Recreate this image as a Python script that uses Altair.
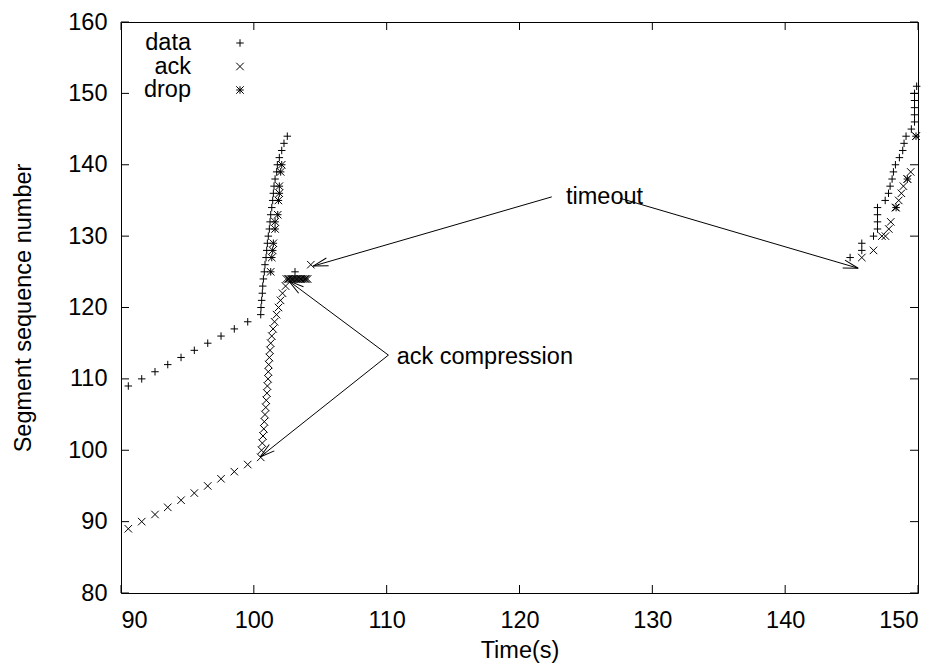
import math
import altair as alt
import pandas as pd

# ---- segment trace (time in s, segment sequence number) ----
data_t = [90.55, 91.56, 92.56, 93.52, 94.52, 95.52, 96.53, 97.53, 98.53, 99.54,
          100.52, 100.54, 100.59, 100.64, 100.67, 100.72, 100.79, 100.84, 100.92, 100.97,
          101.02, 101.09, 101.17, 101.22, 101.27, 101.35, 101.42, 101.47, 101.52, 101.60,
          101.72, 101.77, 101.92, 102.10, 102.27, 102.52,
          103.10,
          144.89, 145.77, 145.77, 146.65, 146.95, 146.95, 146.95, 146.95, 147.53, 147.78,
          147.90, 148.05, 148.15, 148.30, 148.60, 148.85, 148.95, 149.10, 149.50,
          149.74, 149.74, 149.74, 149.74, 149.74, 149.90]
data_seq = [109, 110, 111, 112, 113, 114, 115, 116, 117, 118,
            119, 120, 121, 122, 123, 124, 125, 126, 127, 128,
            129, 130, 131, 132, 133, 134, 135, 136, 137, 138,
            139, 140, 141, 142, 143, 144,
            125,
            127, 128, 129, 130, 131, 132, 133, 134, 135, 136,
            137, 138, 139, 140, 141, 142, 143, 144, 145,
            146, 147, 148, 149, 150, 151]

ack_t = [90.55, 91.56, 92.56, 93.52, 94.52, 95.52, 96.53, 97.53, 98.53, 99.54,
         100.52, 100.58, 100.64, 100.69, 100.75, 100.79, 100.84, 100.90, 100.94, 100.99,
         101.02, 101.07, 101.09, 101.12, 101.17, 101.22, 101.27, 101.35, 101.45, 101.56,
         101.71, 101.86, 102.01, 102.16, 102.39,
         102.45, 102.58, 102.66, 102.77, 102.86, 102.97, 103.05, 103.16, 103.27, 103.35,
         103.46, 103.55, 103.66, 103.74, 103.86, 103.95, 104.05,
         104.29,
         145.77, 146.65, 147.28, 147.55, 147.80, 147.95, 148.30, 148.55, 148.75, 148.90,
         149.20, 149.45, 149.85]
ack_seq = [89, 90, 91, 92, 93, 94, 95, 96, 97, 98,
           99, 100, 101, 102, 103, 104, 105, 106, 107, 108,
           109, 110, 111, 112, 113, 114, 115, 116, 117, 118,
           119, 120, 121, 122, 123,
           124, 124, 124, 124, 124, 124, 124, 124, 124, 124,
           124, 124, 124, 124, 124, 124, 124,
           126,
           127, 128, 130, 130, 131, 132, 134, 135, 136, 137,
           138, 139, 144]

drop_t = [101.27, 101.35, 101.42, 101.47, 101.60, 101.60, 101.80, 101.85, 101.92, 101.92,
          102.02, 102.10,
          148.35, 149.20, 149.85]
drop_seq = [125, 127, 128, 129, 131, 132, 133, 135, 136, 137,
            139, 140,
            134, 138, 144]

# ---- annotations: label anchors and arrows (data coordinates) ----
note_text = ["timeout", "ack compression"]
note_t = [123.5, 110.75]
note_seq = [135.45, 113.1]

arrow_t0 = [122.43, 127.57, 110.13, 110.13]
arrow_s0 = [135.5, 135.3, 113.33, 113.33]
arrow_t1 = [104.46, 145.5, 102.65, 100.47]
arrow_s1 = [125.8, 125.5, 123.7, 99.05]

x_ticks = [90, 100, 110, 120, 130, 140, 150]
y_ticks = [80, 90, 100, 110, 120, 130, 140, 150, 160]

W, H = 797, 571
X_DOM, Y_DOM = [90, 150], [80, 160]
FONT = "Liberation Sans"
FS = 23.5

PLUS = "M-1,0L1,0M0,-1L0,1"
CROSS = "M-1,-1L1,1M-1,1L1,-1"
STAR = PLUS + CROSS

points = pd.concat([
    pd.DataFrame({"t": data_t, "seq": data_seq, "kind": "data"}),
    pd.DataFrame({"t": ack_t, "seq": ack_seq, "kind": "ack"}),
    pd.DataFrame({"t": drop_t, "seq": drop_seq, "kind": "drop"}),
], ignore_index=True)

xs = alt.Scale(domain=X_DOM, nice=False, zero=False)
ys = alt.Scale(domain=Y_DOM, nice=False, zero=False)

x_axis = alt.Axis(values=x_ticks, title="Time(s)", labelPadding=15, titlePadding=7)
y_axis = alt.Axis(values=y_ticks, title="Segment sequence number", labelPadding=14,
                  titlePadding=32)


def X(field):
    return alt.X(field, scale=xs, axis=x_axis)


def Y(field):
    return alt.Y(field, scale=ys, axis=y_axis)


marks = alt.Chart(points).mark_point(
    filled=False, stroke="black", strokeWidth=1, size=56, opacity=1
).encode(
    x=X("t:Q"), y=Y("seq:Q"),
    shape=alt.Shape("kind:N", scale=alt.Scale(domain=["data", "ack", "drop"],
                                              range=[PLUS, CROSS, STAR]), legend=None),
)

# inward ticks on all four sides
xt = pd.DataFrame({"v": x_ticks})
yt = pd.DataFrame({"v": y_ticks})
TL = 8
tick_layers = [
    alt.Chart(xt).mark_rule(color="black", strokeWidth=1).encode(
        x=X("v:Q"), y=alt.value(H), y2=alt.value(H - TL)),
    alt.Chart(xt).mark_rule(color="black", strokeWidth=1).encode(
        x=X("v:Q"), y=alt.value(0), y2=alt.value(TL)),
    alt.Chart(yt).mark_rule(color="black", strokeWidth=1).encode(
        y=Y("v:Q"), x=alt.value(0), x2=alt.value(TL)),
    alt.Chart(yt).mark_rule(color="black", strokeWidth=1).encode(
        y=Y("v:Q"), x=alt.value(W), x2=alt.value(W - TL)),
]

# arrows with open heads
sx = W / (X_DOM[1] - X_DOM[0])
sy = H / (Y_DOM[1] - Y_DOM[0])
arrows = pd.DataFrame({"t0": arrow_t0, "s0": arrow_s0, "t1": arrow_t1, "s1": arrow_s1})
arrows["ang"] = [
    math.degrees(math.atan2(-(b1 - b0) * sy, (a1 - a0) * sx)) % 360
    for a0, b0, a1, b1 in zip(arrow_t0, arrow_s0, arrow_t1, arrow_s1)
]
shafts = alt.Chart(arrows).mark_rule(color="black", strokeWidth=1).encode(
    x=X("t0:Q"), y=Y("s0:Q"), x2="t1:Q", y2="s1:Q")
HEAD = "M0,0L-1,-0.27M0,0L-1,0.27"
heads = alt.Chart(arrows).mark_point(shape=HEAD, filled=False, stroke="black",
                                     strokeWidth=1, size=4 * 15 * 15, opacity=1).encode(
    x=X("t1:Q"), y=Y("s1:Q"), angle=alt.Angle("ang:Q", scale=None))

notes = alt.Chart(pd.DataFrame({"t": note_t, "seq": note_seq, "txt": note_text})).mark_text(
    align="left", baseline="middle", font=FONT, fontSize=FS, color="black").encode(
    x=X("t:Q"), y=Y("seq:Q"), text="txt:N")

# key in the upper-left corner: label then symbol
key_labels = ["data", "ack", "drop"]
key_shapes = [PLUS, CROSS, STAR]
key_layers = []
for i, (lab, shp) in enumerate(zip(key_labels, key_shapes)):
    yy = 21 + 23.5 * i
    key_layers.append(
        alt.Chart(pd.DataFrame({"l": [lab]})).mark_text(
            align="right", baseline="middle", font=FONT, fontSize=FS, color="black").encode(
            x=alt.value(70), y=alt.value(yy), text="l:N"))
    key_layers.append(
        alt.Chart(pd.DataFrame({"l": [lab]})).mark_point(
            shape=shp, filled=False, stroke="black", strokeWidth=1, size=56, opacity=1).encode(
            x=alt.value(119), y=alt.value(yy)))

chart = alt.layer(marks, *tick_layers, shafts, heads, notes, *key_layers).properties(
    width=W, height=H,
    autosize=alt.AutoSizeParams(type="none"),
    padding={"left": 121, "top": 22, "right": 26, "bottom": 71},
    background="white",
).configure_view(stroke="black", strokeWidth=1).configure_axis(
    domain=False, ticks=False, grid=False,
    labelFont=FONT, labelFontSize=FS, labelColor="black",
    titleFont=FONT, titleFontSize=FS, titleFontWeight="normal", titleColor="black",
)

chart.save("out.html", embed_options={"renderer": "svg", "actions": False})
